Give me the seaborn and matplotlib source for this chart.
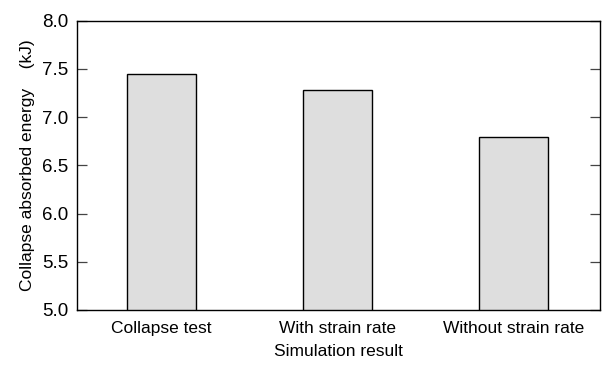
import numpy as np
import pandas as pd
import matplotlib
matplotlib.use("Agg")
import matplotlib.pyplot as plt
import seaborn as sns

# Data
categories = ["Collapse test", "With strain rate", "Without strain rate"]
energy_kj = [7.45, 7.28, 6.79]
y_ticks = [5.0, 5.5, 6.0, 6.5, 7.0, 7.5, 8.0]

df = pd.DataFrame({"case": categories, "energy": energy_kj})

sns.set_theme(style="ticks")
plt.rcParams["font.family"] = ["Liberation Sans", "DejaVu Sans"]

fig = plt.figure(figsize=(6.05, 3.65), dpi=100)
ax = fig.add_axes([0.127, 0.151, 0.865, 0.792])

sns.barplot(data=df, x="case", y="energy", color="#dedede", width=0.39,
            edgecolor="black", linewidth=1.0, saturation=1, ax=ax)

ax.set_ylim(5.0, 8.0)
ax.set_xlim(-0.48, 2.49)
ax.set_yticks(y_ticks)
ax.set_yticklabels([f"{v:.1f}" for v in y_ticks])

for side in ["top", "right", "left", "bottom"]:
    ax.spines[side].set_visible(True)
    ax.spines[side].set_color("black")
    ax.spines[side].set_linewidth(1.0)

ax.tick_params(axis="y", direction="in", length=7, width=0.9, left=True, right=True,
               labelsize=13.5, pad=6, color="#444444", labelcolor="black")
ax.tick_params(axis="x", length=0, labelsize=12.5, pad=8, labelcolor="black")

ax.set_xlabel("Simulation result", fontsize=12.5, labelpad=6, color="black")
ax.set_ylabel("Collapse absorbed energy    (kJ)", fontsize=12.5, labelpad=5, color="black")

fig.savefig("out.png", dpi=100)
